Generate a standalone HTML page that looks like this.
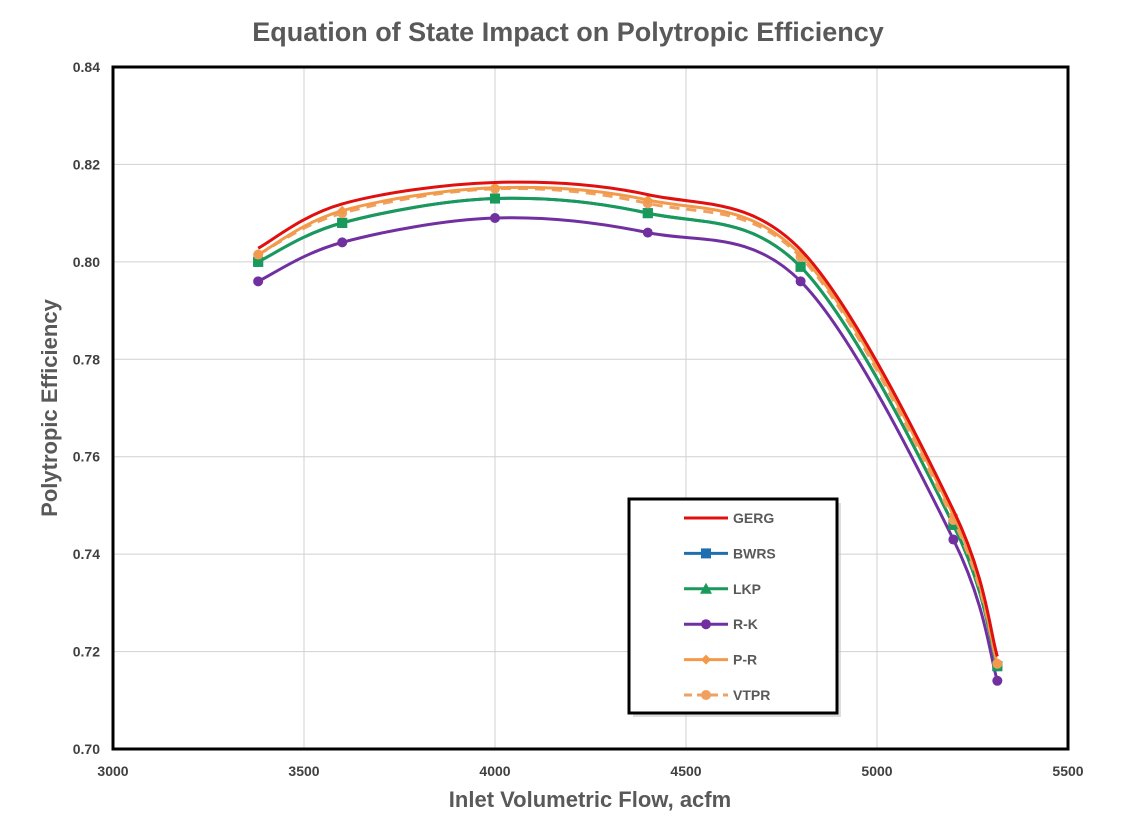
<!DOCTYPE html>
<html><head><meta charset="utf-8"><style>
body{margin:0;background:#fff;font-family:"Liberation Sans",Arial,sans-serif}
svg text{font-family:"Liberation Sans",Arial,sans-serif}
</style></head><body>
<svg id="c" width="1137" height="825">
<text x="568" y="41" text-anchor="middle" font-size="27" font-weight="bold" fill="#595959">Equation of State Impact on Polytropic Efficiency</text>
<g id="grid"></g>
<g id="ticks"></g>
<g id="series"></g>
<rect x="113" y="67" width="955" height="682" fill="none" stroke="#000" stroke-width="3"/>
<text x="590" y="807" text-anchor="middle" font-size="22" font-weight="bold" fill="#595959">Inlet Volumetric Flow, acfm</text>
<text transform="translate(57,408) rotate(-90)" text-anchor="middle" font-size="22" font-weight="bold" fill="#595959">Polytropic Efficiency</text>
<g>
<rect x="633" y="503" width="208" height="214" fill="#bbb" opacity="0.5"/>
<rect x="629" y="499" width="208" height="214" fill="#fff" stroke="#000" stroke-width="3"/>
<g id="legend"></g>
</g>
</svg>
<script>
const xs=[3380,3600,4000,4400,4800,5200,5315];
const gerg=[0.8028,0.8119,0.8163,0.8138,0.8025,0.749,0.719];
const bwrs=[0.800,0.808,0.813,0.810,0.799,0.746,0.717];
const lkp=[0.800,0.808,0.813,0.810,0.799,0.746,0.717];
const rk=[0.796,0.804,0.809,0.806,0.796,0.743,0.714];
const pr=[0.8015,0.8105,0.8152,0.8127,0.8015,0.748,0.7175];
const vtpr=[0.8015,0.810,0.815,0.812,0.801,0.747,0.7175];
const xTicks=[3000,3500,4000,4500,5000,5500];
const yTicks=[0.70,0.72,0.74,0.76,0.78,0.80,0.82,0.84];
const names=["GERG","BWRS","LKP","R-K","P-R","VTPR"];
const NS="http://www.w3.org/2000/svg";
const X=v=>113+(v-3000)/2500*955;
const Y=v=>749-(v-0.70)/0.14*682;
function el(t,a,p){const e=document.createElementNS(NS,t);for(const k in a)e.setAttribute(k,a[k]);p.appendChild(e);return e;}
const grid=document.getElementById('grid'),ticks=document.getElementById('ticks');
xTicks.forEach(t=>{
 const l=el('line',{x1:X(t),x2:X(t),y1:67,y2:749,stroke:'#d0d0d0','stroke-width':1},grid);
 
 
 const tx=el('text',{x:X(t),y:776,'text-anchor':'middle','font-size':14,'font-weight':'bold',fill:'#404040'},ticks);
 tx.textContent=t;
 
 
});
yTicks.forEach(t=>{
 const l=el('line',{x1:113,x2:1068,y1:Y(t),y2:Y(t),stroke:'#d0d0d0','stroke-width':1},grid);
 
 
 const tx=el('text',{x:100,y:Y(t)+5,'text-anchor':'end','font-size':14,'font-weight':'bold',fill:'#404040'},ticks);
 tx.textContent=t.toFixed(2);
 
 
});
function path(ys){
 const p=xs.map((x,i)=>[X(x),Y(ys[i])]);
 let d=`M${p[0][0]},${p[0][1]}`;
 for(let i=0;i<p.length-1;i++){
  const p0=p[i-1]||p[i],p1=p[i],p2=p[i+1],p3=p[i+2]||p2,k=6;
  d+=`C${p1[0]+(p2[0]-p0[0])/k},${p1[1]+(p2[1]-p0[1])/k} ${p2[0]-(p3[0]-p1[0])/k},${p2[1]-(p3[1]-p1[1])/k} ${p2[0]},${p2[1]}`;
 }
 return d;
}
function marker(g,type,x,y,c,s){
 if(type==='sq')return el('rect',{x:x-s,y:y-s,width:2*s,height:2*s,fill:c},g);
 if(type==='tri')return el('polygon',{points:`${x},${y-s-1} ${x-s-1},${y+s} ${x+s+1},${y+s}`,fill:c},g);
 if(type==='dia')return el('polygon',{points:`${x},${y-s} ${x+s},${y} ${x},${y+s} ${x-s},${y}`,fill:c},g);
 if(type==='circ')return el('circle',{cx:x,cy:y,r:s,fill:c},g);
}
const S=document.getElementById('series');
const defs=[
 {n:'rk',ys:rk,c:'#7030a0',m:'circ',dash:null},
 {n:'bwrs',ys:bwrs,c:'#1f6fb0',m:'sq',dash:null},
 {n:'lkp',ys:lkp,c:'#1a9a5a',m:'sq',dash:null},
 {n:'vtpr',ys:vtpr,c:'#f0a060',m:'circ',dash:'10,7'},
 {n:'pr',ys:pr,c:'#f39a4a',m:'dia',dash:null},
 {n:'gerg',ys:gerg,c:'#e01010',m:null,dash:null}
];
defs.forEach(s=>{
 const g=el('g',{},S);
 
 
 const a={d:path(s.ys),fill:'none',stroke:s.c,'stroke-width':3};
 if(s.dash)a['stroke-dasharray']=s.dash;
 el('path',a,g);
 if(s.m)xs.forEach((x,i)=>{
  const m=marker(g,s.m,X(x),Y(s.ys[i]),s.c,5);
  
  
 });
});
const L=document.getElementById('legend');
const lc=[['#e01010',null,null],['#1f6fb0','sq',null],['#1a9a5a','tri',null],['#7030a0','circ',null],['#f39a4a','dia',null],['#f0a060','circ','8,5']];
names.forEach((n,i)=>{
 const y=518+i*35.4;
 const g=el('g',{},L);
 
 
 const a={x1:684,x2:728,y1:y,y2:y,stroke:lc[i][0],'stroke-width':3};
 if(lc[i][2])a['stroke-dasharray']=lc[i][2];
 el('line',a,g);
 if(lc[i][1])marker(g,lc[i][1],706,y,lc[i][0],5);
 const t=el('text',{x:733,y:y+5,'font-size':14,'font-weight':'bold',fill:'#595959'},g);
 t.textContent=n;
});
</script>
</body></html>
